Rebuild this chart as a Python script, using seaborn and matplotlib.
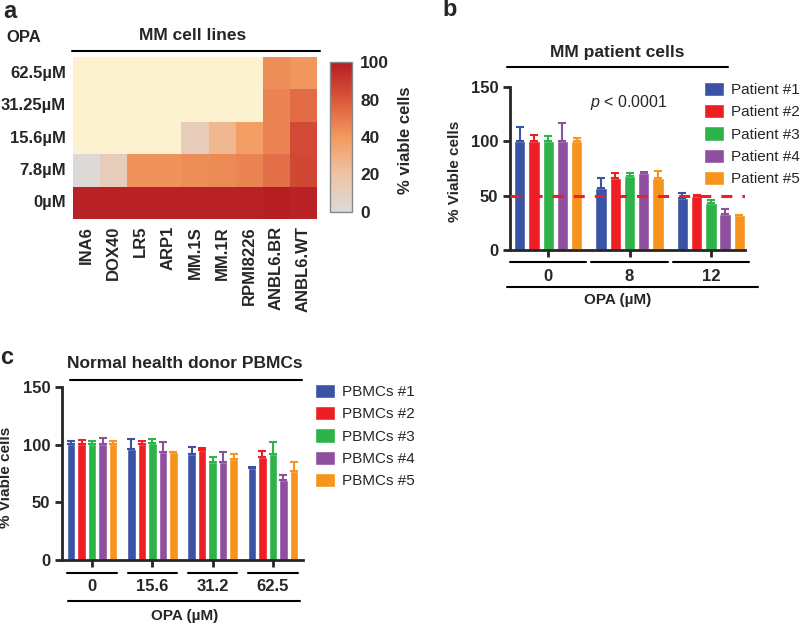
import numpy as np
import pandas as pd
import matplotlib
matplotlib.use("Agg")
import matplotlib.pyplot as plt
import seaborn as sns
from matplotlib.colors import LinearSegmentedColormap
from matplotlib.lines import Line2D
from matplotlib.patches import Patch

W, H = 800, 625
nan = np.nan

# panel a: MM cell lines heatmap (% viable cells, nan = not shown)
doses_a = ["62.5µM", "31.25µM", "15.6µM", "7.8µM", "0µM"]
cell_lines = ["INA6", "DOX40", "LR5", "ARP1", "MM.1S", "MM.1R",
              "RPMI8226", "ANBL6.BR", "ANBL6.WT"]
via_625 = [nan, nan, nan, nan, nan, nan, nan, 55, 51]
via_3125 = [nan, nan, nan, nan, nan, nan, nan, 58, 67]
via_156 = [nan, nan, nan, nan, 15, 32, 48, 58, 80]
via_78 = [1, 14, 53, 53, 55, 56, 58, 66, 82]
via_0 = [98, 98, 98, 98, 98, 98, 98, 99, 97]
cbar_ticks = [0, 25, 50, 75, 100]
cbar_labels = ["0", "20", "40", "80", "100"]

# panel b: MM patient cells
opa_b = ["0", "8", "12"]
patients = ["Patient #1", "Patient #2", "Patient #3", "Patient #4", "Patient #5"]
mean_p1 = [100, 57, 48]
mean_p2 = [100, 66, 50]
mean_p3 = [100, 68, 43]
mean_p4 = [100, 71, 33.5]
mean_p5 = [100, 66.5, 32]
err_p1 = [13, 9, 4.5]
err_p2 = [6, 4.5, 1]
err_p3 = [5, 2.5, 3]
err_p4 = [17, 0.5, 4]
err_p5 = [3, 6.5, 0]
cutoff_b = 50

# panel c: normal donor PBMCs
opa_c = ["0", "15.6", "31.2", "62.5"]
donors = ["PBMCs #1", "PBMCs #2", "PBMCs #3", "PBMCs #4", "PBMCs #5"]
mean_c1 = [101, 96, 91.5, 79.5]
mean_c2 = [101, 101, 95.5, 89]
mean_c3 = [101, 101.5, 85, 91.5]
mean_c4 = [101, 93.5, 85, 69.5]
mean_c5 = [101, 94, 88, 77]
err_c1 = [2, 8.5, 6.5, 1.5]
err_c2 = [3, 2.5, 2, 5.5]
err_c3 = [2.5, 3.5, 4, 10.5]
err_c4 = [4.5, 8.5, 9, 4]
err_c5 = [2.5, 0, 4, 8]

colors = ["#3a53a4", "#ed1f24", "#2db34a", "#8f4f9f", "#f7941e"]

sns.set_style("ticks")
plt.rcParams["font.family"] = ["Liberation Sans", "DejaVu Sans"]
plt.rcParams["mathtext.fontset"] = "custom"
plt.rcParams["mathtext.it"] = "Liberation Sans:italic"
plt.rcParams["mathtext.rm"] = "Liberation Sans"

fig = plt.figure(figsize=(W / 100, H / 100), dpi=100)


def rect(x0, y0, x1, y1):
    return [x0 / W, 1 - y1 / H, (x1 - x0) / W, (y1 - y0) / H]


def ftext(x, y, s, **kw):
    fig.text(x / W, 1 - y / H, s, **kw)


def hline(x0, x1, y, lw=1.5):
    fig.add_artist(Line2D([x0 / W, x1 / W], [1 - y / H, 1 - y / H],
                          color="black", lw=lw, transform=fig.transFigure))


def bold_ticks(ax, size=12):
    for lbl in ax.get_xticklabels() + ax.get_yticklabels():
        lbl.set_fontweight("bold")
        lbl.set_fontsize(size)


# ---------------- panel a ----------------
ax_a = fig.add_axes(rect(73, 57, 317, 219))
cax = fig.add_axes(rect(330, 62, 352, 212))
heat = pd.DataFrame([via_625, via_3125, via_156, via_78, via_0],
                    index=doses_a, columns=cell_lines)
cmap = LinearSegmentedColormap.from_list(
    "via", [(0, "#dcdad8"), (0.25, "#efc3a4"), (0.5, "#f29a5f"),
            (0.75, "#db573b"), (1.0, "#b51c23")])
sns.heatmap(heat, ax=ax_a, cmap=cmap, vmin=0, vmax=100, cbar_ax=cax,
            linewidths=0)
ax_a.set_facecolor("#fdf2cf")
ax_a.tick_params(length=0, pad=5)
ax_a.set_xticklabels(cell_lines, rotation=90)
ax_a.set_yticklabels(doses_a, rotation=0)
ax_a.set_xlabel("")
ax_a.set_ylabel("")
bold_ticks(ax_a, 12)
cbar = ax_a.collections[0].colorbar
cbar.set_ticks(cbar_ticks)
cbar.set_ticklabels(cbar_labels)
cbar.ax.tick_params(length=0, pad=6)
for lbl in cbar.ax.get_yticklabels():
    lbl.set_fontweight("bold")
    lbl.set_fontsize(12.5)
cbar.outline.set_edgecolor("#888888")
cbar.outline.set_linewidth(1)

ftext(3, 11, "a", fontsize=17, fontweight="bold", va="center")
ftext(6, 37, "OPA", fontsize=12, fontweight="bold", va="center")
ftext(193, 35, "MM cell lines", fontsize=12.5, fontweight="bold",
      ha="center", va="center")
hline(72, 320, 51)
ftext(405, 140, "% viable cells", fontsize=12, fontweight="bold",
      rotation=90, ha="center", va="center")


# ---------------- bar panels ----------------
def bar_panel(ax, groups, names, means, errs, xlim, half, leg_xy):
    rows = []
    for name, m in zip(names, means):
        for g, v in zip(groups, m):
            rows.append({"OPA": g, "series": name, "viab": v})
    df = pd.DataFrame(rows)
    sns.barplot(data=df, x="OPA", y="viab", hue="series", order=groups,
                hue_order=names, palette=colors, width=0.875, gap=0.2,
                errorbar=None, saturation=1, legend=False, ax=ax)
    for cont, e, c in zip(ax.containers, errs, colors):
        xs = [b.get_x() + b.get_width() / 2 for b in cont]
        ys = [b.get_height() for b in cont]
        ax.errorbar(xs, ys, yerr=[np.zeros(len(e)), e], fmt="none",
                    ecolor=c, elinewidth=1.5, capsize=3, capthick=1.5)
    ax.set_xlim(*xlim)
    ax.set_ylim(0, 150)
    ax.set_yticks([0, 50, 100, 150])
    sns.despine(ax=ax)
    for s in ("left", "bottom"):
        ax.spines[s].set_linewidth(2)
    ax.tick_params(axis="both", width=2, length=5)
    ax.tick_params(axis="x", pad=9)
    ax.set_xlabel("")
    ax.set_ylabel("% Viable cells", fontsize=11, fontweight="bold")
    ax.yaxis.set_label_coords(-0.204, 0.48)
    bold_ticks(ax, 12)
    tr = ax.get_xaxis_transform()
    for i in range(len(groups)):
        ax.plot([i - half, i + half], [-0.075, -0.075], transform=tr,
                clip_on=False, color="black", lw=1.5)
    ax.legend(handles=[Patch(facecolor=c) for c in colors], labels=names,
              frameon=False, fontsize=11, loc="upper left",
              bbox_to_anchor=(leg_xy[0] / W, 1 - leg_xy[1] / H),
              bbox_transform=fig.transFigure, borderpad=0,
              borderaxespad=0, handlelength=1.3, handleheight=1.05,
              handletextpad=0.45, labelspacing=0.45)


ax_b = fig.add_axes(rect(510, 87, 745, 250))
bar_panel(ax_b, opa_b, patients,
          [mean_p1, mean_p2, mean_p3, mean_p4, mean_p5],
          [err_p1, err_p2, err_p3, err_p4, err_p5], (-0.47, 2.42), 0.47,
          (704, 82))
ax_b.axhline(cutoff_b, color="#ed1f24", lw=2.2, ls=(0, (3.6, 3.3)),
             zorder=5)
ftext(450, 10, "b", fontsize=17, fontweight="bold", va="center",
      ha="center")
ftext(617, 52, "MM patient cells", fontsize=12.5, fontweight="bold",
      ha="center", va="center")
hline(507, 728, 67)
ftext(590, 102, r"$p$ < 0.0001", fontsize=11.5, va="center")
hline(507, 758, 287)
ftext(618, 300, "OPA (µM)", fontsize=11, fontweight="bold",
      ha="center", va="center")

ax_c = fig.add_axes(rect(62, 387, 303, 560))
bar_panel(ax_c, opa_c, donors,
          [mean_c1, mean_c2, mean_c3, mean_c4, mean_c5],
          [err_c1, err_c2, err_c3, err_c4, err_c5], (-0.5, 3.5), 0.41,
          (315, 384))
ftext(7, 357, "c", fontsize=17, fontweight="bold", va="center",
      ha="center")
ftext(185, 363, "Normal health donor PBMCs", fontsize=12.5,
      fontweight="bold", ha="center", va="center")
hline(70, 302, 380)
hline(68, 300, 601)
ftext(185, 616, "OPA (µM)", fontsize=11, fontweight="bold",
      ha="center", va="center")

fig.savefig("out.png", dpi=100)
